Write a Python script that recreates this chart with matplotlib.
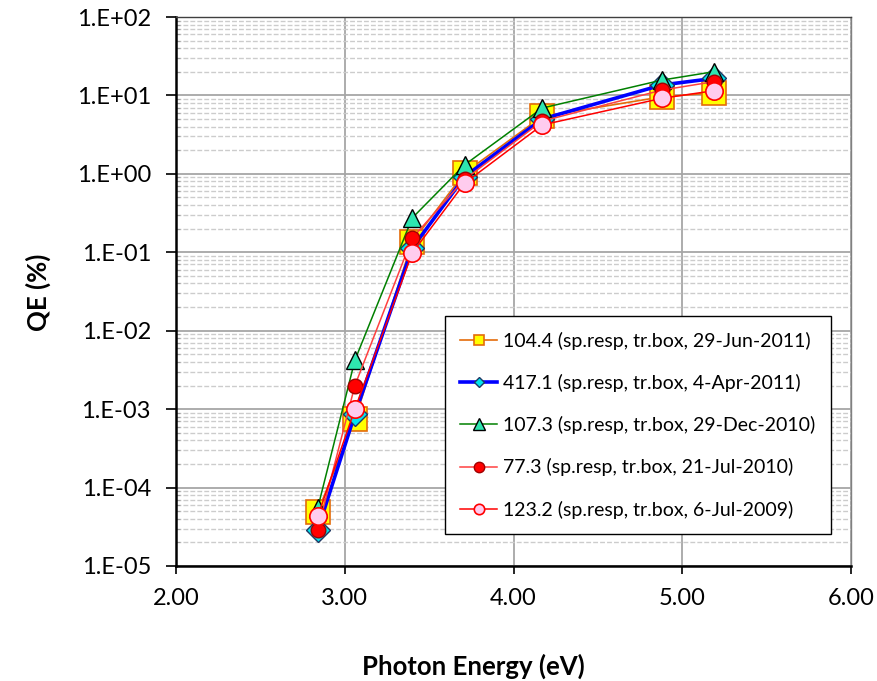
import matplotlib
matplotlib.use("Agg")
import matplotlib.pyplot as plt
from matplotlib.ticker import LogLocator, FixedLocator, NullFormatter, FuncFormatter
import numpy as np

plt.rcParams['font.family'] = ['Lato', 'DejaVu Sans']

energy = [2.84, 3.06, 3.40, 3.71, 4.17, 4.88, 5.19]

labels = [
    "104.4 (sp.resp, tr.box, 29-Jun-2011)",
    "417.1 (sp.resp, tr.box, 4-Apr-2011)",
    "107.3 (sp.resp, tr.box, 29-Dec-2010)",
    "77.3 (sp.resp, tr.box, 21-Jul-2010)",
    "123.2 (sp.resp, tr.box, 6-Jul-2009)",
]
qe_104 = [4.9e-5, 7.4e-4, 0.135, 1.03, 5.4, 9.6, 10.8]
qe_417 = [2.9e-5, 8.6e-4, 0.113, 0.92, 5.0, 13.6, 16.5]
qe_107 = [5.5e-5, 4.2e-3, 0.274, 1.30, 6.9, 15.7, 20.1]
qe_77 = [2.9e-5, 2.0e-3, 0.152, 0.85, 4.7, 11.7, 15.0]
qe_123 = [4.3e-5, 1.0e-3, 0.098, 0.76, 4.2, 9.2, 11.5]

xticks = [2.0, 3.0, 4.0, 5.0, 6.0]
yticks = [1e-5, 1e-4, 1e-3, 1e-2, 1e-1, 1e0, 1e1, 1e2]

fig = plt.figure(figsize=(8.77, 6.81), dpi=100)
ax = fig.add_axes([176/877, 1-566/681, (851-176)/877, (566-17)/681])

styles = [
    dict(color='#E46C0A', lw=1.2, marker='s', ms=17, mfc='#FFFF00', mec='#E46C0A', mew=1.2),
    dict(color='#0000FF', lw=2.6, marker='D', ms=12.5, mfc='#00E5EE', mec='#1F3864', mew=1.0),
    dict(color='#008000', lw=1.1, marker='^', ms=13.5, mfc='#2EE6B0', mec='#000000', mew=1.0),
    dict(color='#FF4040', lw=1.1, marker='o', ms=10.5, mfc='#FF0000', mec='#A00000', mew=1.0),
    dict(color='#FF0000', lw=1.1, marker='o', ms=12.5, mfc='#FFCCEE', mec='#FF0000', mew=1.2),
]
series = [qe_104, qe_417, qe_107, qe_77, qe_123]
for i, (vals, lab, st) in enumerate(zip(series, labels, styles)):
    ax.plot(energy, vals, label=lab, zorder=3 + i, **st)

ax.set_yscale('log')
ax.set_xlim(2.0, 6.0)
ax.set_ylim(1e-5, 1e2)
ax.xaxis.set_major_locator(FixedLocator(xticks))
ax.xaxis.set_major_formatter(FuncFormatter(lambda v, p: f"{v:.2f}"))
ax.yaxis.set_major_locator(FixedLocator(yticks))
ax.yaxis.set_minor_locator(LogLocator(base=10, subs=np.arange(2, 10), numticks=20))
ax.yaxis.set_minor_formatter(NullFormatter())

def efmt(v, p):
    e = int(round(np.log10(v)))
    return f"1.E{'+' if e >= 0 else '-'}{abs(e):02d}"
ax.yaxis.set_major_formatter(FuncFormatter(efmt))

ax.grid(True, which='major', axis='both', color='#A6A6A6', lw=1.3, ls='-', zorder=0)
ax.grid(True, which='minor', axis='y', color='#CCCCCC', lw=1.0, ls=(0, (3.5, 1.5)), zorder=0)
ax.set_axisbelow(True)

for s in ['left', 'bottom']:
    ax.spines[s].set_color('black')
    ax.spines[s].set_linewidth(1.8)
ax.spines['top'].set_color('#404040')
ax.spines['top'].set_linewidth(1.0)
ax.spines['right'].set_color('#808080')
ax.spines['right'].set_linewidth(1.0)

ax.tick_params(axis='y', which='major', direction='out', length=7, width=1.2, labelsize=17, pad=11)
ax.tick_params(axis='y', which='minor', direction='in', length=3, width=0.8, color='#A0A0A0')
ax.tick_params(axis='x', which='major', direction='out', length=6, width=1.2, labelsize=17, pad=10)

fig.text(38/877, 1-292/681, "QE (%)", rotation=90, ha='center', va='center',
         fontsize=18.5, fontweight='bold')
fig.text(473.5/877, 1-666/681, "Photon Energy (eV)", ha='center', va='center',
         fontsize=18.5, fontweight='bold')

leg = ax.legend(loc='upper right', bbox_to_anchor=(0.970, 0.455), borderaxespad=0,
                fontsize=14, labelspacing=1.24, handlelength=1.9, handletextpad=0.3,
                fancybox=False, framealpha=1, edgecolor='black', borderpad=0.8)
leg.get_frame().set_linewidth(1.0)
leg.set_zorder(10)
for h, sz in zip(leg.legend_handles, [7.5, 5.5, 8, 7.5, 7.5]):
    h.set_markersize(sz)

fig.savefig("out.png", dpi=100)
